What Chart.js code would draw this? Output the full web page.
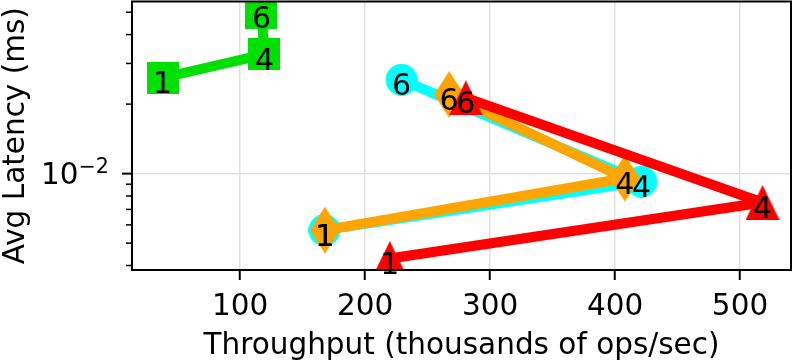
<!DOCTYPE html>
<html>
<head>
<meta charset="utf-8">
<script src="https://cdn.jsdelivr.net/npm/chart.js@4.4.1/dist/chart.umd.min.js"></script>
<style>
  html, body { margin: 0; padding: 0; background: #fff; }
  canvas { display: block; }
</style>
</head>
<body>
<canvas id="chart" width="793" height="361"></canvas>
<script>
// thread counts labelled on every point
const THREADS = ['1', '4', '6'];

const X_TICKS = [100, 200, 300, 400, 500];
const Y_TICKS = [0.004, 0.005, 0.006, 0.007, 0.008, 0.009, 0.01, 0.02, 0.03, 0.04, 0.05];
const Y_MAJOR = [0.01];
const Y_MAJOR_LABEL = ['10', '\u22122'];   // 10^-2

// throughput (k ops/sec) / avg latency (ms)
const GREEN_X  = [37.9, 119.4, 117.0];
const GREEN_Y  = [0.0260, 0.0328, 0.0497];
const CYAN_X   = [167.4, 421.1, 229.1];
const CYAN_Y   = [0.00569, 0.00923, 0.0255];
const ORANGE_X = [167.8, 407.8, 267.2];
const ORANGE_Y = [0.00569, 0.00955, 0.0220];
const RED_X    = [219.7, 518.0, 280.6];
const RED_Y    = [0.00429, 0.00750, 0.0213];

const FONT = { family: "'DejaVu Sans'", size: 29.5 };
const TITLE_FONT = { family: "'DejaVu Sans'", size: 29.5, lineHeight: 1 };
const GRID = '#e2e2e2';

// matplotlib-like marker shapes
function marker(shape, color, w, h) {
  const c = document.createElement('canvas');
  c.width = w; c.height = h;
  const g = c.getContext('2d');
  g.fillStyle = color;
  g.beginPath();
  if (shape === 'square') {
    g.rect(0, 0, w, h);
  } else if (shape === 'circle') {
    g.arc(w / 2, h / 2, w / 2, 0, Math.PI * 2);
  } else if (shape === 'diamond') {
    g.moveTo(w / 2, 0); g.lineTo(w, h / 2); g.lineTo(w / 2, h); g.lineTo(0, h / 2);
    g.closePath();
  } else {
    g.moveTo(w / 2, 0); g.lineTo(w, h); g.lineTo(0, h);
    g.closePath();
  }
  g.fill();
  return c;
}

function series(xs, ys, color, style, order) {
  return {
    data: xs.map((x, i) => ({ x, y: ys[i] })),
    borderColor: color,
    backgroundColor: color,
    borderWidth: 10,
    borderCapStyle: 'square',
    borderJoinStyle: 'round',
    pointStyle: style,
    pointRadius: 16,
    showLine: true,
    clip: 0,
    order,
  };
}

// frame, y ticks + label, point labels
const decorations = {
  id: 'decorations',
  afterDatasetsDraw(chart) {
    const { ctx, chartArea: a, scales: { y } } = chart;
    ctx.save();
    ctx.strokeStyle = '#000';
    Y_TICKS.forEach(v => {
      const py = y.getPixelForValue(v);
      const major = Y_MAJOR.includes(v);
      ctx.lineWidth = major ? 2 : 1.5;
      ctx.beginPath();
      ctx.moveTo(a.left - (major ? 10 : 6), py);
      ctx.lineTo(a.left, py);
      ctx.stroke();
    });
    ctx.lineWidth = 2;
    ctx.strokeRect(a.left, a.top, a.right - a.left, a.bottom - a.top);

    ctx.fillStyle = '#000';
    ctx.textBaseline = 'alphabetic';

    // 10^-2 with a real superscript
    Y_MAJOR.forEach(v => {
      const py = y.getPixelForValue(v);
      ctx.textAlign = 'left';
      ctx.font = "29.5px 'DejaVu Sans'";
      const x0 = 41;
      ctx.fillText(Y_MAJOR_LABEL[0], x0, py + 10.6);
      const w = ctx.measureText(Y_MAJOR_LABEL[0]).width;
      ctx.font = "20.6px 'DejaVu Sans'";
      ctx.fillText(Y_MAJOR_LABEL[1], x0 + w, py - 0.4);
    });

    ctx.font = "30px 'DejaVu Sans'";
    ctx.textAlign = 'center';
    chart.data.datasets.forEach((ds, i) => {
      chart.getDatasetMeta(i).data.forEach((pt, j) => {
        ctx.fillText(THREADS[j], pt.x, pt.y + 15.5);
      });
    });
    ctx.restore();
  }
};

new Chart(document.getElementById('chart'), {
  type: 'scatter',
  data: {
    datasets: [
      series(GREEN_X, GREEN_Y, '#00e000', marker('square', '#00e000', 32, 32), 4),
      series(CYAN_X, CYAN_Y, '#00ffff', marker('circle', '#00ffff', 32, 32), 3),
      series(ORANGE_X, ORANGE_Y, '#ffa500', marker('diamond', '#ffa500', 30, 47), 2),
      series(RED_X, RED_Y, '#ff0000', marker('triangle', '#ff0000', 34, 35), 1),
    ]
  },
  options: {
    responsive: false,
    animation: false,
    devicePixelRatio: 1,
    layout: { autoPadding: false, padding: { top: 1.5, right: 2, left: 0, bottom: 0 } },
    plugins: {
      legend: { display: false },
      tooltip: { enabled: false },
    },
    scales: {
      x: {
        type: 'linear',
        min: 13.4,
        max: 540.8,
        afterBuildTicks: s => { s.ticks = X_TICKS.map(v => ({ value: v })); },
        afterFit: s => { s.height = 91; },
        ticks: { font: FONT, color: '#000', padding: 10, maxRotation: 0, autoSkip: false },
        grid: { color: GRID, lineWidth: 1.5, tickLength: 10, tickWidth: 2, tickColor: '#000' },
        border: { display: false },
        title: {
          display: true,
          text: 'Throughput (thousands of ops/sec)',
          font: TITLE_FONT,
          color: '#000',
          padding: { top: 0, bottom: 0 },
        },
      },
      y: {
        type: 'logarithmic',
        min: 0.003825,
        max: 0.05564,
        afterBuildTicks: s => { s.ticks = Y_TICKS.map(v => ({ value: v })); },
        afterFit: s => { s.width = 132; },
        ticks: { display: false },
        grid: {
          color: ctx => ctx.tick && Y_MAJOR.includes(ctx.tick.value) ? GRID : 'rgba(0,0,0,0)',
          lineWidth: 1.5,
          drawTicks: false,
        },
        border: { display: false },
        title: {
          display: true,
          text: 'Avg Latency (ms)',
          font: TITLE_FONT,
          color: '#000',
          padding: { top: 1.5, bottom: 0 },
        },
      },
    },
  },
  plugins: [decorations],
});
</script>
</body>
</html>
